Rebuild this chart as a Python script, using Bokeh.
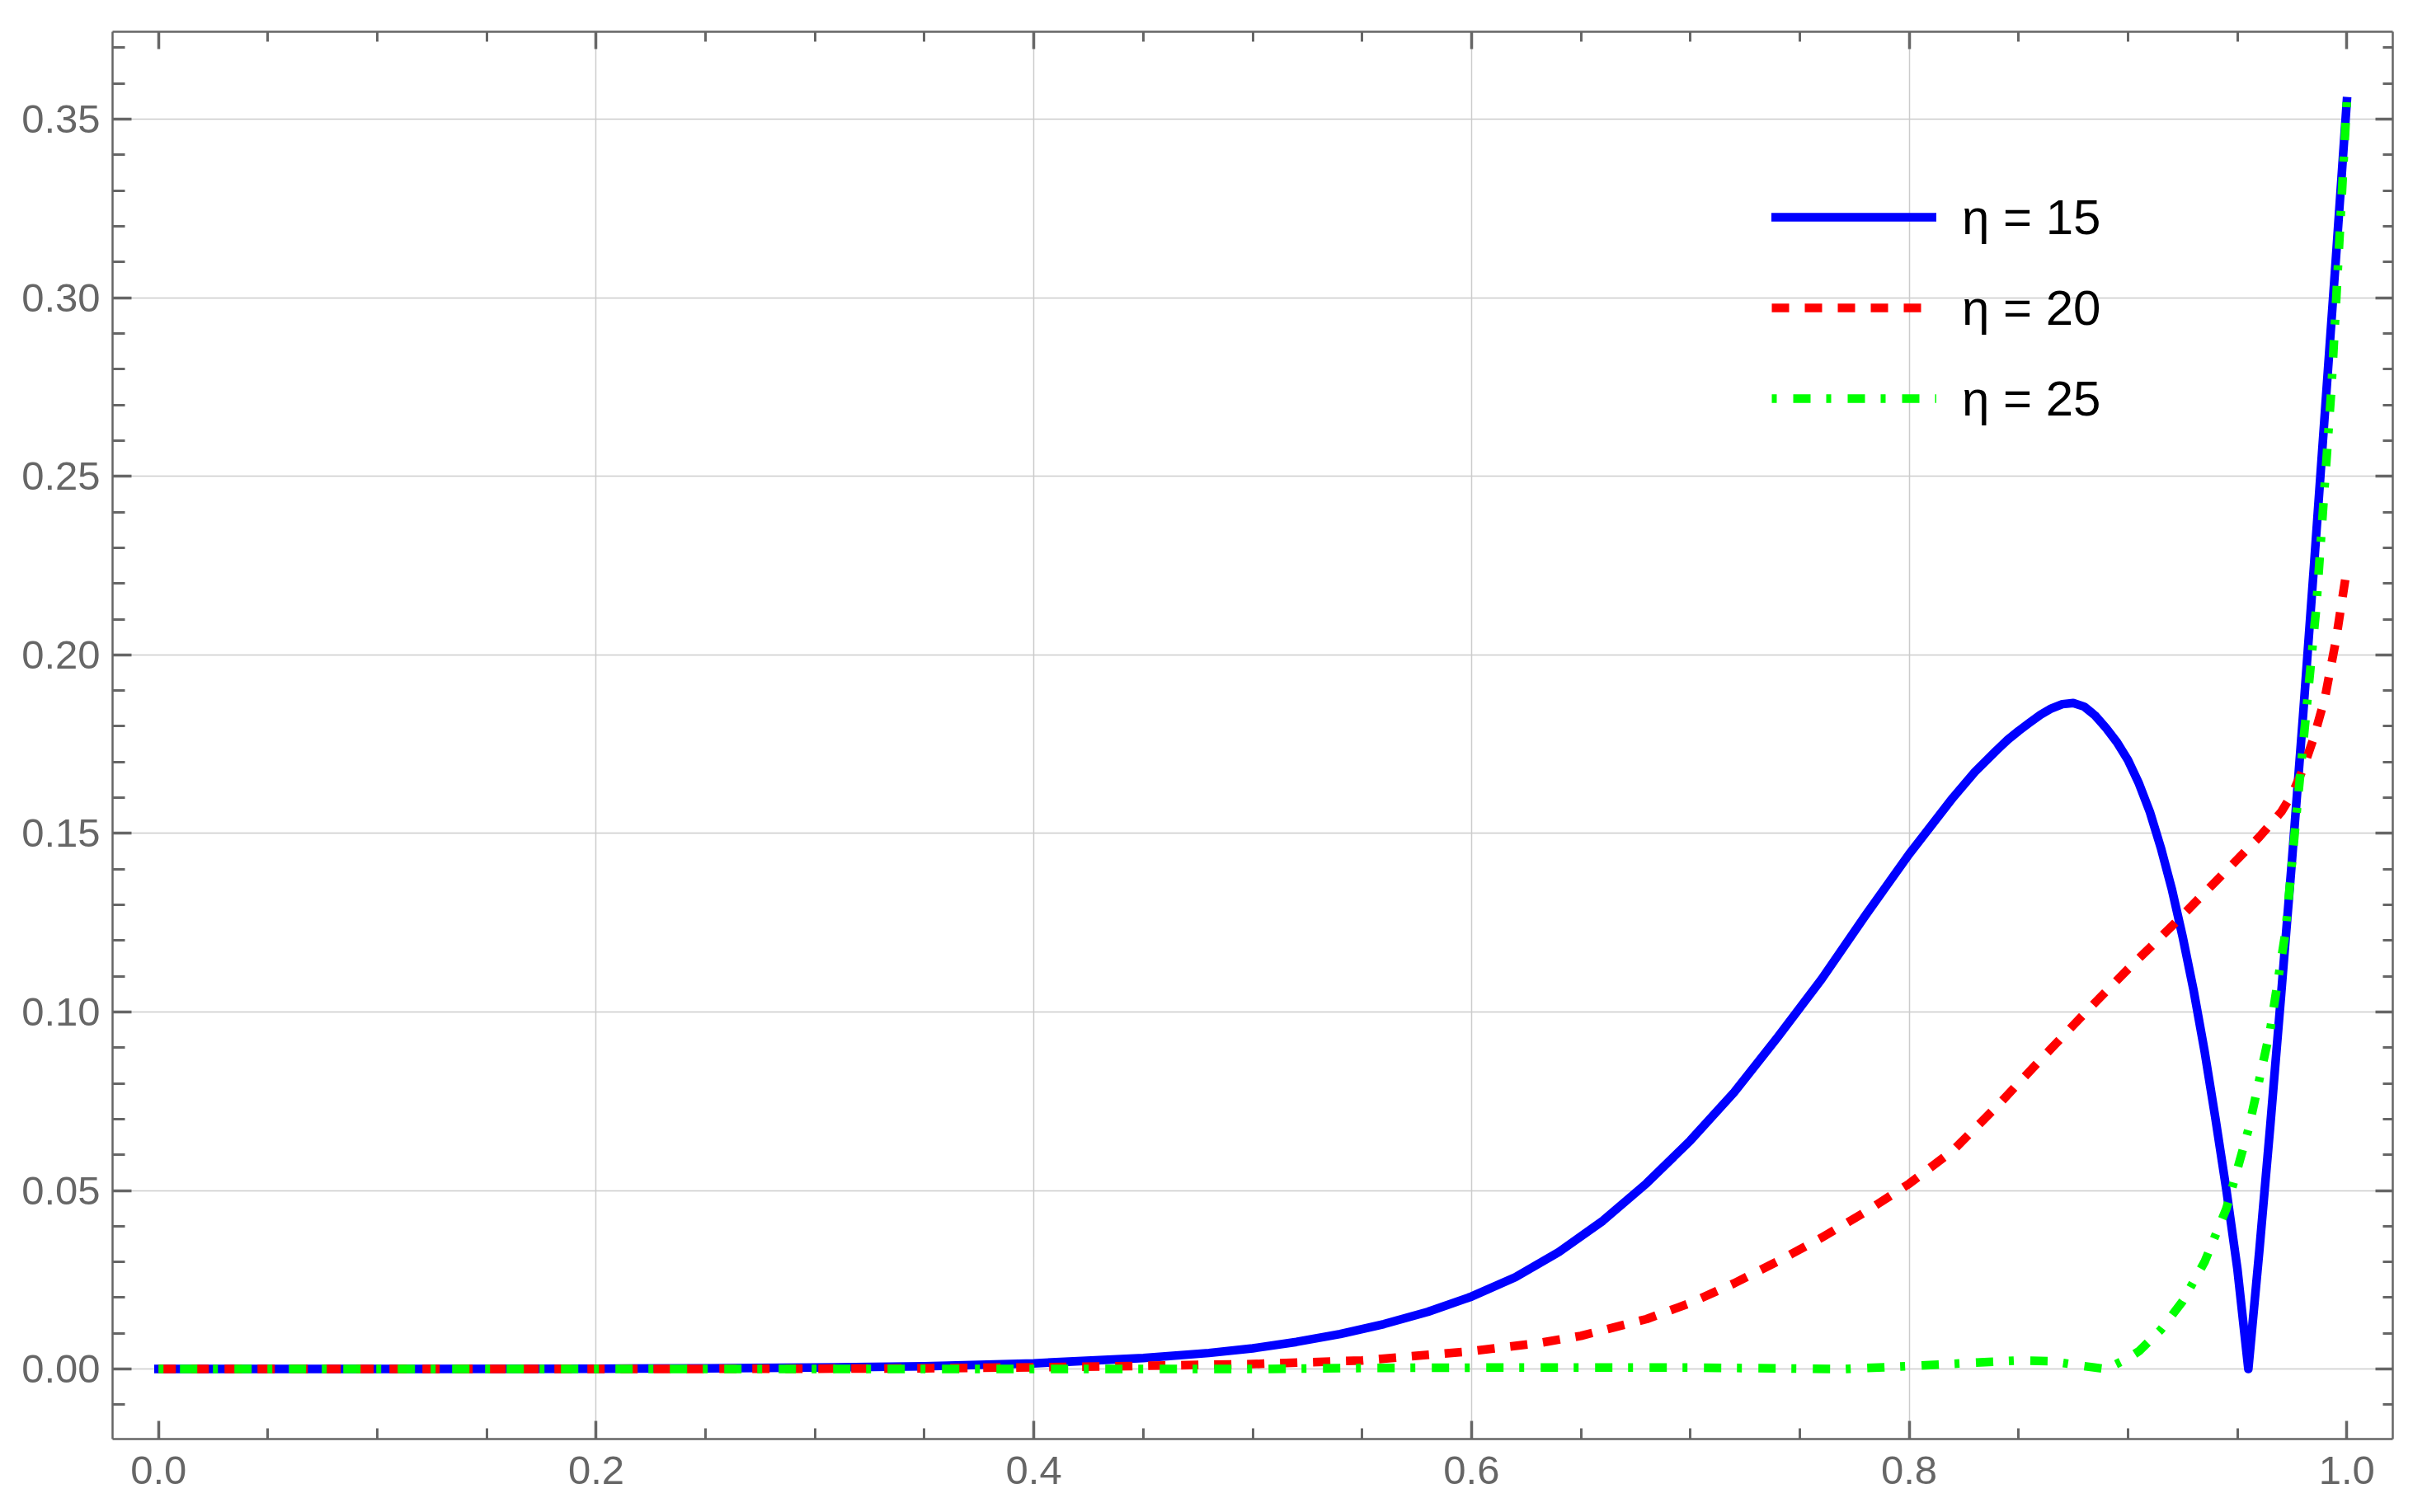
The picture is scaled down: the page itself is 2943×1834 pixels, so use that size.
from bokeh.plotting import figure
from bokeh.models import (Range1d, LinearAxis, FixedTicker, Legend, LegendItem,
                          CustomJSTickFormatter, NumeralTickFormatter)
from bokeh.embed import file_html
from bokeh.resources import INLINE

# ---- data ----
x_eta15 = [0.00, 0.10, 0.20, 0.25, 0.30, 0.35, 0.40, 0.45, 0.48, 0.50, 0.52, 0.54,
           0.56, 0.58, 0.60, 0.62, 0.64, 0.66, 0.68, 0.70, 0.72, 0.74, 0.76, 0.78,
           0.80, 0.82, 0.83, 0.84, 0.845, 0.85, 0.855, 0.86, 0.865, 0.87, 0.875, 0.88,
           0.885, 0.89, 0.895, 0.90, 0.905, 0.91, 0.915, 0.92, 0.925, 0.93, 0.935,
           0.94, 0.945, 0.95, 0.955, 0.960, 0.965, 0.970, 0.975, 0.980, 0.985,
           0.990, 0.995, 1.000]
y_eta15 = [0.0000, 0.0000, 0.0001, 0.0002, 0.0004, 0.0008, 0.0016, 0.0031, 0.0045,
           0.0058, 0.0076, 0.0098, 0.0126, 0.0160, 0.0203, 0.0257, 0.0328, 0.0415,
           0.0520, 0.0640, 0.0775, 0.0930, 0.1092, 0.1270, 0.1442, 0.1600, 0.1672,
           0.1733, 0.1762, 0.1787, 0.1810, 0.1832, 0.1850, 0.1862, 0.1865, 0.1855,
           0.1830, 0.1795, 0.1755, 0.1705, 0.1640, 0.1560, 0.1460, 0.1345, 0.1210,
           0.1060, 0.0890, 0.0700, 0.0500, 0.0280, 0.0000, 0.0330, 0.0680, 0.1050,
           0.1430, 0.1830, 0.2250, 0.2680, 0.3110, 0.3550]

x_eta20 = [0.00, 0.10, 0.20, 0.30, 0.35, 0.40, 0.45, 0.50, 0.55, 0.60, 0.63, 0.65,
           0.68, 0.70, 0.72, 0.74, 0.76, 0.78, 0.80, 0.82, 0.84, 0.86, 0.88, 0.90,
           0.92, 0.94, 0.96, 0.97, 0.975, 0.98, 0.985, 0.99, 0.995, 1.00]
y_eta20 = [0.0000, 0.0000, 0.0000, 0.0001, 0.0002, 0.0005, 0.0009, 0.0014, 0.0024,
           0.0050, 0.0072, 0.0093, 0.0140, 0.0185, 0.0240, 0.0302, 0.0368, 0.0440,
           0.0519, 0.0612, 0.0735, 0.0866, 0.0995, 0.1120, 0.1240, 0.1365, 0.1490,
           0.1560, 0.1610, 0.1680, 0.1770, 0.1880, 0.2040, 0.2240]

x_eta25 = [0.00, 0.50, 0.55, 0.60, 0.65, 0.70, 0.74, 0.77, 0.80, 0.83, 0.85, 0.865,
           0.88, 0.89, 0.90, 0.905, 0.915, 0.925, 0.935, 0.945, 0.955, 0.965, 0.972,
           0.978, 0.986, 0.993, 1.000]
y_eta25 = [0.0000, 0.0000, 0.0003, 0.0004, 0.0004, 0.0004, 0.0002, 0.0000, 0.0008,
           0.0018, 0.0024, 0.0022, 0.0008, 0.0000, 0.0030, 0.0050, 0.0110, 0.0190,
           0.0300, 0.0450, 0.0670, 0.0950, 0.1225, 0.1620, 0.2130, 0.2750, 0.3550]

labels = ["η = 15", "η = 20", "η = 25"]
x_major = [0.0, 0.2, 0.4, 0.6, 0.8, 1.0]
x_minor = [round(0.05 * i, 2) for i in range(0, 21)]
x_grid = [0.2, 0.4, 0.6, 0.8]
y_major = [round(0.05 * i, 2) for i in range(0, 8)]
y_minor = [round(0.01 * i, 2) for i in range(-1, 38)]

AX = "#666666"
FONT = "Liberation Sans"

p = figure(frame_width=2765, frame_height=1707,
           x_range=Range1d(-0.021, 1.021), y_range=Range1d(-0.0196, 0.3745),
           output_backend="svg", toolbar_location=None,
           min_border_left=136, min_border_right=26, min_border_top=38,
           min_border_bottom=70, background_fill_color="white",
           border_fill_color="white")
p.outline_line_color = None

r1 = p.line(x_eta15, y_eta15, line_color="#0000ff", line_width=10.5,
            line_cap="square", line_join="round")
r2 = p.line(x_eta20, y_eta20, line_color="#ff0000", line_width=10.5,
            line_dash="21 19", line_cap="butt", line_join="round")
r3 = p.line(x_eta25, y_eta25, line_color="#00ff00", line_width=10.5,
            line_dash="6 20 21 19", line_cap="butt", line_join="round")

xt = FixedTicker(ticks=x_major, minor_ticks=x_minor)
yt = FixedTicker(ticks=y_major, minor_ticks=y_minor)

p.xgrid.ticker = FixedTicker(ticks=x_grid)
p.ygrid.ticker = FixedTicker(ticks=y_major)
for g in (p.xgrid[0], p.ygrid[0]):
    g.grid_line_color = "#cccccc"
    g.grid_line_width = 1.5


def style_axis(ax, labels_on, major_len, minor_len, standoff=15):
    ax.axis_line_color = AX
    ax.axis_line_width = 2.5
    ax.major_tick_line_color = AX
    ax.minor_tick_line_color = AX
    ax.major_tick_line_width = 3.5
    ax.minor_tick_line_width = 3.0
    ax.major_tick_in = major_len
    ax.major_tick_out = 0
    ax.minor_tick_in = minor_len
    ax.minor_tick_out = 0
    ax.major_label_text_color = AX
    ax.major_label_text_font = FONT
    ax.major_label_text_font_style = "normal"
    if labels_on:
        ax.major_label_text_font_size = "49px"
        ax.major_label_standoff = standoff
    else:
        ax.major_label_text_font_size = "0px"
        ax.major_label_standoff = 0
        ax.formatter = CustomJSTickFormatter(code="return ''")


xa = p.xaxis[0]
xa.ticker = xt
xa.formatter = NumeralTickFormatter(format="0.0")
style_axis(xa, True, 22, 13, standoff=21)

ya = p.yaxis[0]
ya.ticker = yt
ya.formatter = NumeralTickFormatter(format="0.00")
style_axis(ya, True, 23, 15, standoff=15)

top = LinearAxis(ticker=FixedTicker(ticks=x_major, minor_ticks=x_minor))
style_axis(top, False, 21, 12)
p.add_layout(top, "above")

right = LinearAxis(ticker=FixedTicker(ticks=y_major, minor_ticks=y_minor))
style_axis(right, False, 21, 12)
p.add_layout(right, "right")

legend = Legend(items=[LegendItem(label=labels[0], renderers=[r1]),
                       LegendItem(label=labels[1], renderers=[r2]),
                       LegendItem(label=labels[2], renderers=[r3])],
                location=(2012, 1212), orientation="vertical",
                glyph_width=200, glyph_height=100, label_height=100,
                spacing=10, padding=0, margin=0, label_standoff=31,
                label_text_font=FONT, label_text_font_size="60px",
                label_text_color="black", border_line_color=None,
                background_fill_alpha=0)
p.add_layout(legend)

open("out.html", "w").write(file_html(p, INLINE))
